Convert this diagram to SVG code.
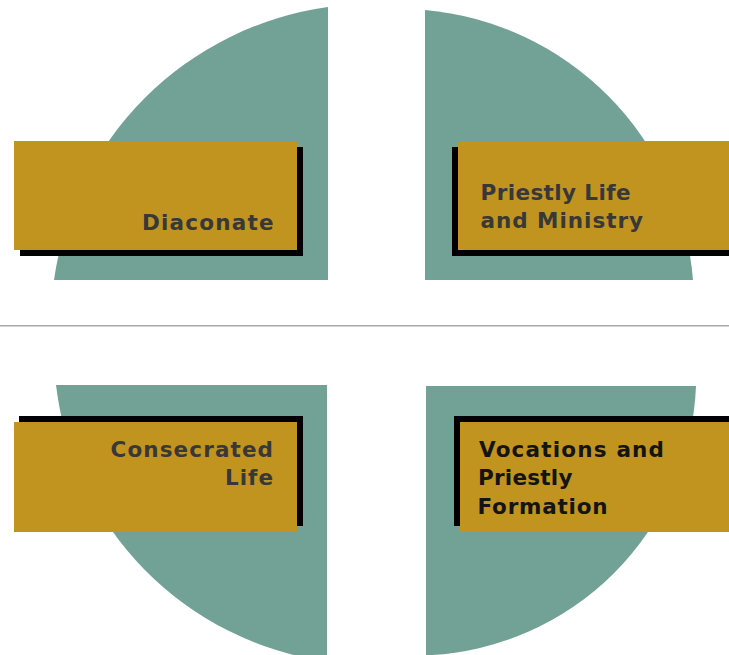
<svg xmlns="http://www.w3.org/2000/svg" width="729" height="655" viewBox="0 0 729 655">
<style>
.q{fill:#72a196}
.sh{fill:#000}
.box{fill:#c0941f}
.t{font-family:"DejaVu Sans","Verdana",sans-serif;font-weight:bold;font-size:21.5px;fill:#383838}
.t2{fill:#141414}
</style>
<rect x="0" y="0" width="729" height="655" fill="#fff"/>
<g id="quadrants">
<path class="q" d="M328,7 L328,280 L54,280 A321,321 0 0 1 328,7 Z"/>
<path class="q" d="M425,10 A295,295 0 0 1 693,280 L425,280 Z"/>
<path class="q" d="M56,385 L327,385 L327,661.5 A317,317 0 0 1 56,385 Z"/>
<path class="q" d="M426,386 L696,386 A281,281 0 0 1 426,655.3 Z"/>
</g>
<g id="divider">
<line x1="0" y1="325.7" x2="729" y2="325.7" stroke="#a8a8a8" stroke-width="1.6"/>
</g>
<g id="diaconate">
<rect class="sh" x="20" y="147" width="283" height="109"/>
<rect class="box" x="14" y="141" width="283" height="109"/>
<text class="t" x="142" y="230" textLength="131.5" lengthAdjust="spacing">Diaconate</text>
</g>
<g id="priestly-life">
<rect class="sh" x="452" y="147" width="280" height="109"/>
<rect class="box" x="458" y="141" width="274" height="109"/>
<text class="t" x="480.5" y="200" textLength="150" lengthAdjust="spacing">Priestly Life</text>
<text class="t" x="480.5" y="228" textLength="162.5" lengthAdjust="spacing">and Ministry</text>
</g>
<g id="consecrated-life">
<rect class="sh" x="19" y="416" width="284" height="110"/>
<rect class="box" x="14" y="422" width="283" height="110"/>
<text class="t" x="110.5" y="457" textLength="162.5" lengthAdjust="spacing">Consecrated</text>
<text class="t" x="225" y="484.5" textLength="48" lengthAdjust="spacing">Life</text>
</g>
<g id="vocations">
<rect class="sh" x="454" y="416" width="278" height="110"/>
<rect class="box" x="460" y="422" width="272" height="110"/>
<text class="t t2" x="479" y="457" textLength="185" lengthAdjust="spacing">Vocations and</text>
<text class="t t2" x="478" y="485" textLength="94.5" lengthAdjust="spacing">Priestly</text>
<text class="t t2" x="477.5" y="513.5" textLength="130" lengthAdjust="spacing">Formation</text>
</g>
</svg>
